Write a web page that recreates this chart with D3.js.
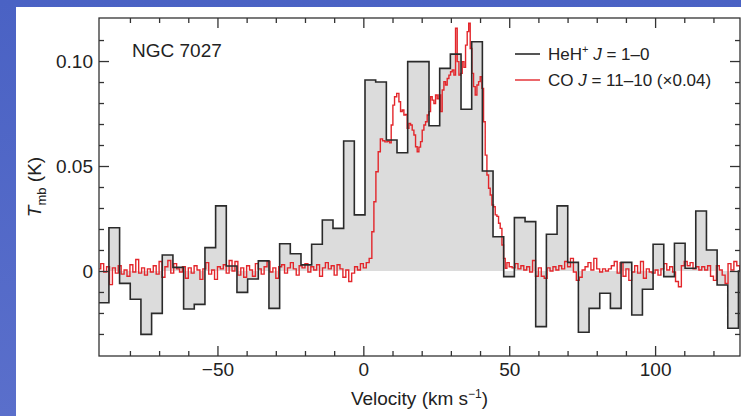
<!DOCTYPE html>
<html>
<head>
<meta charset="utf-8">
<script src="https://cdn.jsdelivr.net/npm/d3@7"></script>
<style>
  body { margin: 0; background: linear-gradient(180deg, #4a62c4, #5a6fcb); }
  svg { display: block; }
  text { font-family: "Liberation Sans", Arial, Helvetica, sans-serif; fill: #222; }
</style>
</head>
<body>
<script>
// HeH+ J=1-0 spectrum: channel centres (km/s) and Tmb (K)
var binWidth = 3.66;
var hehVel = [-89.03, -85.37, -81.72, -78.06, -74.40, -70.74, -67.09, -63.43, -59.77, -56.12,
  -52.46, -48.80, -45.14, -41.49, -37.83, -34.17, -30.52, -26.86, -23.20, -19.54,
  -15.89, -12.23, -8.57, -4.92, -1.26, 2.40, 6.06, 9.71, 13.37, 17.03,
  20.68, 24.34, 28.00, 31.66, 35.31, 38.97, 42.63, 46.28, 49.94, 53.60,
  57.26, 60.91, 64.57, 68.23, 71.88, 75.54, 79.20, 82.86, 86.51, 90.17,
  93.83, 97.48, 101.14, 104.80, 108.46, 112.11, 115.77, 119.43, 123.08, 126.74, 130.40];
var hehT = [-0.0151, 0.0206, -0.0059, -0.0135, -0.0302, -0.0202, 0.0076, 0.0017, -0.0181, -0.0159,
  0.0111, 0.0310, 0.0024, -0.0102, -0.0038, 0.0048, -0.0178, 0.0130, 0.0082, 0.0029,
  0.0127, 0.0243, 0.0203, 0.0619, 0.0267, 0.0910, 0.0900, 0.0624, 0.0563, 0.0997,
  0.0997, 0.0692, 0.0965, 0.1033, 0.0770, 0.1092, 0.0476, 0.0163, -0.0027, 0.0254,
  0.0235, -0.0265, 0.0175, 0.0310, 0.0041, -0.0292, -0.0178, -0.0106, -0.0178, 0.0041,
  -0.0210, -0.0087, 0.0127, -0.0027, 0.0132, 0.0013, 0.0286, 0.0100, -0.0067, -0.0273, 0.0000];

// CO J=11-10 (x0.04) spectrum: [velocity km/s, Tmb K]
var coPoints = [
  [-90.5, 0.0010], [-89.5, 0.0035], [-88.5, -0.0005], [-87.5, 0.0020], [-86.5, -0.0065],
  [-85.5, 0.0015], [-84.5, -0.0010], [-83.5, 0.0025], [-82.5, -0.0015], [-81.5, 0.0005],
  [-80.5, -0.0025], [-79.5, 0.0030], [-78.5, -0.0005], [-77.5, 0.0055], [-76.5, -0.0010],
  [-75.5, 0.0015], [-74.5, -0.0020], [-73.5, 0.0010], [-72.5, -0.0005], [-71.5, 0.0025],
  [-70.5, -0.0015], [-69.5, 0.0045], [-68.5, -0.0030], [-67.5, 0.0020], [-66.5, 0.0050],
  [-65.5, -0.0010], [-64.5, 0.0035], [-63.5, 0.0010], [-62.5, -0.0005], [-61.5, 0.0020],
  [-60.5, -0.0035], [-59.5, 0.0015], [-58.5, -0.0010], [-57.5, 0.0025], [-56.5, 0.0005],
  [-55.5, -0.0040], [-54.5, 0.0010], [-53.5, 0.0040], [-52.5, -0.0015], [-51.5, 0.0005],
  [-50.5, -0.0040], [-49.5, 0.0020], [-48.5, 0.0010], [-47.5, 0.0030], [-46.5, -0.0010],
  [-45.5, 0.0050], [-44.5, 0.0000], [-43.5, 0.0045], [-42.5, -0.0020], [-41.5, 0.0015],
  [-40.5, -0.0030], [-39.5, 0.0025], [-38.5, 0.0005], [-37.5, -0.0025], [-36.5, 0.0035],
  [-35.5, 0.0010], [-34.5, -0.0015], [-33.5, 0.0020], [-32.5, 0.0045], [-31.5, -0.0005],
  [-30.5, 0.0015], [-29.5, -0.0035], [-28.5, 0.0020], [-27.5, 0.0030], [-26.5, -0.0010],
  [-25.5, 0.0015], [-24.5, 0.0040], [-23.5, 0.0010], [-22.5, -0.0020], [-21.5, 0.0025],
  [-20.5, 0.0015], [-19.5, 0.0035], [-18.5, -0.0005], [-17.5, 0.0020], [-16.5, 0.0005],
  [-15.5, 0.0030], [-14.5, -0.0025], [-13.5, 0.0015], [-12.5, 0.0040], [-11.5, 0.0010],
  [-10.5, 0.0025], [-9.5, -0.0020], [-8.5, 0.0030], [-7.5, 0.0010], [-6.5, -0.0030],
  [-5.5, 0.0005], [-4.5, -0.0050], [-3.5, -0.0010], [-2.5, 0.0020], [-1.5, 0.0005],
  [-0.5, 0.0035], [0.5, 0.0015], [1.5, 0.0040], [2.5, 0.0060],
  [3.33, 0.0187], [3.91, 0.0330], [4.70, 0.0473], [5.49, 0.0568], [6.17, 0.0629],
  [6.99, 0.0620], [7.78, 0.0615], [8.71, 0.0618], [9.26, 0.0610], [9.84, 0.0695],
  [10.42, 0.0790], [10.97, 0.0830], [11.90, 0.0846], [12.48, 0.0806], [13.03, 0.0759],
  [13.61, 0.0767], [14.19, 0.0743], [14.74, 0.0745], [15.32, 0.0680], [15.91, 0.0703],
  [16.46, 0.0695], [17.04, 0.0671], [17.62, 0.0648], [18.17, 0.0592], [18.75, 0.0568],
  [19.34, 0.0590], [19.88, 0.0616], [20.47, 0.0671], [21.05, 0.0695], [21.60, 0.0711],
  [22.18, 0.0743], [22.76, 0.0759], [23.31, 0.0830], [23.90, 0.0814], [24.48, 0.0798],
  [25.03, 0.0838], [25.61, 0.0820], [26.19, 0.0838], [26.74, 0.0759], [27.32, 0.0862],
  [27.91, 0.0902], [28.45, 0.0886], [29.04, 0.0917], [29.62, 0.0933], [30.17, 0.0949],
  [30.75, 0.0957], [31.33, 0.0933], [31.88, 0.1156], [32.47, 0.0997], [33.05, 0.0933],
  [33.60, 0.0941], [34.18, 0.0997], [34.76, 0.0970], [35.31, 0.1076], [35.89, 0.1140],
  [36.34, 0.1180], [36.92, 0.1060], [37.51, 0.0941], [38.05, 0.0878], [38.64, 0.0838],
  [39.22, 0.0886], [39.77, 0.0902], [40.35, 0.0925], [40.93, 0.0870], [41.48, 0.0711],
  [42.06, 0.0552], [42.65, 0.0457], [43.19, 0.0394], [43.78, 0.0362], [44.36, 0.0314],
  [44.91, 0.0306], [45.49, 0.0267], [46.07, 0.0260], [46.62, 0.0227], [47.21, 0.0203],
  [47.79, 0.0124], [48.34, 0.0060], [48.92, 0.0013], [49.50, 0.0040],
  [50.5, 0.0020], [51.5, 0.0015], [52.5, 0.0035], [53.5, 0.0010], [54.5, 0.0025],
  [55.5, 0.0005], [56.5, 0.0020], [57.5, -0.0005], [58.5, 0.0050], [59.5, -0.0025],
  [60.5, 0.0015], [61.5, -0.0025], [62.5, -0.0035], [63.5, 0.0015], [64.5, 0.0000],
  [65.5, 0.0020], [66.5, 0.0005], [67.5, 0.0025], [68.5, 0.0010], [69.5, 0.0045],
  [70.5, 0.0020], [71.5, 0.0060], [72.5, -0.0005], [73.5, -0.0045], [74.5, -0.0030],
  [75.5, 0.0005], [76.5, 0.0020], [77.5, 0.0040], [78.5, 0.0005], [79.5, 0.0060],
  [80.5, 0.0010], [81.5, -0.0005], [82.5, 0.0010], [83.5, 0.0000], [84.5, 0.0010],
  [85.5, 0.0025], [86.5, 0.0045], [87.5, -0.0010], [88.5, 0.0040], [89.5, -0.0025],
  [90.5, 0.0010], [91.5, -0.0045], [92.5, -0.0005], [93.5, 0.0025], [94.5, -0.0010],
  [95.5, 0.0045], [96.5, -0.0035], [97.5, 0.0010], [98.5, -0.0005], [99.5, -0.0010],
  [100.5, 0.0005], [101.5, -0.0020], [102.5, 0.0010], [103.5, 0.0035], [104.5, 0.0005],
  [105.5, 0.0020], [106.5, -0.0005], [107.5, -0.0050], [108.5, -0.0075], [109.5, 0.0025],
  [110.5, 0.0045], [111.5, 0.0025], [112.5, 0.0040], [113.5, 0.0010], [114.5, 0.0020],
  [115.5, 0.0005], [116.5, 0.0020], [117.5, 0.0005], [118.5, 0.0025], [119.5, -0.0025],
  [120.5, -0.0045], [121.5, 0.0025], [122.5, 0.0005], [123.5, -0.0020], [124.5, -0.0060],
  [125.5, 0.0035], [126.5, 0.0005], [127.5, 0.0045], [128.5, 0.0025], [129.5, 0.0005]
];

// ticks
var xMajor = [-50, 0, 50, 100];
var xLabels = ["\u221250", "0", "50", "100"];
var xMinor = [-80, -70, -60, -40, -30, -20, -10, 10, 20, 30, 40, 60, 70, 80, 90, 110, 120];
var yMajor = [0, 0.05, 0.10];
var yLabels = ["0", "0.05", "0.10"];
var yMinor = [-0.03, -0.02, -0.01, 0.01, 0.02, 0.03, 0.04, 0.06, 0.07, 0.08, 0.09, 0.11];

var width = 741;
var height = 416;
var svg = d3.select("body")
  .append("svg")
  .attr("width", width)
  .attr("height", height);

// white panel over the blue background
svg.append("rect")
  .attr("x", 16).attr("y", 7)
  .attr("width", width - 16).attr("height", height - 7)
  .attr("fill", "#fff");

var plotLeft = 99, plotRight = 740, plotTop = 18, plotBottom = 356;

var xScale = d3.scaleLinear().domain([-90.6, 129.1]).range([plotLeft, plotRight]);
var yScale = d3.scaleLinear().domain([-0.0405, 0.1205]).range([plotBottom, plotTop]);

svg.append("clipPath").attr("id", "plotclip")
  .append("rect")
  .attr("x", plotLeft).attr("y", plotTop)
  .attr("width", plotRight - plotLeft).attr("height", plotBottom - plotTop);

var plot = svg.append("g").attr("clip-path", "url(#plotclip)");

// histogram steps
var hehSteps = [];
hehVel.forEach(function(v, i) {
  hehSteps.push([v - binWidth / 2, hehT[i]]);
  hehSteps.push([v + binWidth / 2, hehT[i]]);
});

var area = d3.area()
  .x(function(d) { return xScale(d[0]); })
  .y0(yScale(0))
  .y1(function(d) { return yScale(d[1]); });

var line = d3.line()
  .x(function(d) { return xScale(d[0]); })
  .y(function(d) { return yScale(d[1]); });

plot.append("path")
  .datum(hehSteps)
  .attr("d", area)
  .attr("fill", "#dcdcdc");

plot.append("path")
  .datum(coPoints)
  .attr("d", line.curve(d3.curveStep))
  .attr("fill", "none")
  .attr("stroke", "#e3262b")
  .attr("stroke-width", 1.4);

plot.append("path")
  .datum(hehSteps)
  .attr("d", d3.line()
    .x(function(d) { return xScale(d[0]); })
    .y(function(d) { return yScale(d[1]); }))
  .attr("fill", "none")
  .attr("stroke", "#2a2a2a")
  .attr("stroke-width", 1.6);

// axes
function styleAxis(g) {
  g.select(".domain").remove();
  g.selectAll(".tick line").attr("stroke", "#333").attr("stroke-width", 1.3);
  g.selectAll(".tick text")
    .attr("fill", "#222")
    .style("font-family", "'Liberation Sans', Arial, Helvetica, sans-serif")
    .style("font-size", "19px");
}

svg.append("g")
  .attr("transform", "translate(0," + plotBottom + ")")
  .call(d3.axisBottom(xScale).tickValues(xMajor).tickSize(-10).tickPadding(6.5)
    .tickFormat(function(d, i) { return xLabels[i]; }))
  .call(styleAxis);
svg.append("g")
  .attr("transform", "translate(0," + plotBottom + ")")
  .call(d3.axisBottom(xScale).tickValues(xMinor).tickSize(-5).tickFormat(""))
  .call(styleAxis);
svg.append("g")
  .attr("transform", "translate(0," + plotTop + ")")
  .call(d3.axisTop(xScale).tickValues(xMajor).tickSize(-10).tickFormat(""))
  .call(styleAxis);
svg.append("g")
  .attr("transform", "translate(0," + plotTop + ")")
  .call(d3.axisTop(xScale).tickValues(xMinor).tickSize(-5).tickFormat(""))
  .call(styleAxis);

svg.append("g")
  .attr("transform", "translate(" + plotLeft + ",0)")
  .call(d3.axisLeft(yScale).tickValues(yMajor).tickSize(-10).tickPadding(6)
    .tickFormat(function(d, i) { return yLabels[i]; }))
  .call(styleAxis);
svg.append("g")
  .attr("transform", "translate(" + plotLeft + ",0)")
  .call(d3.axisLeft(yScale).tickValues(yMinor).tickSize(-5).tickFormat(""))
  .call(styleAxis);
svg.append("g")
  .attr("transform", "translate(" + plotRight + ",0)")
  .call(d3.axisRight(yScale).tickValues(yMajor).tickSize(-10).tickFormat(""))
  .call(styleAxis);
svg.append("g")
  .attr("transform", "translate(" + plotRight + ",0)")
  .call(d3.axisRight(yScale).tickValues(yMinor).tickSize(-5).tickFormat(""))
  .call(styleAxis);

// frame
svg.append("rect")
  .attr("x", plotLeft).attr("y", plotTop)
  .attr("width", plotRight - plotLeft).attr("height", plotBottom - plotTop)
  .attr("fill", "none")
  .attr("stroke", "#333")
  .attr("stroke-width", 1.3);

// axis labels
var xLab = svg.append("text")
  .attr("x", (plotLeft + plotRight) / 2)
  .attr("y", 405)
  .attr("text-anchor", "middle")
  .style("font-size", "19px");
xLab.append("tspan").text("Velocity (km s");
xLab.append("tspan").attr("dy", -7).style("font-size", "12px").text("\u22121");
xLab.append("tspan").attr("dy", 7).text(")");

var yLab = svg.append("text")
  .attr("transform", "translate(41," + (plotTop + plotBottom) / 2 + ") rotate(-90)")
  .attr("text-anchor", "middle")
  .style("font-size", "19px");
yLab.append("tspan").style("font-style", "italic").text("T");
yLab.append("tspan").attr("dy", 5).style("font-size", "13px").text("mb");
yLab.append("tspan").attr("dy", -5).text(" (K)");

// object name
svg.append("text")
  .attr("x", 132).attr("y", 57)
  .style("font-size", "19px")
  .text("NGC 7027");

// legend
var legend = svg.append("g");
legend.append("line")
  .attr("x1", 515).attr("x2", 540).attr("y1", 54).attr("y2", 54)
  .attr("stroke", "#2a2a2a").attr("stroke-width", 1.6);
legend.append("line")
  .attr("x1", 515).attr("x2", 540).attr("y1", 80).attr("y2", 80)
  .attr("stroke", "#e3262b").attr("stroke-width", 1.4);

var l1 = legend.append("text").attr("x", 548).attr("y", 59.5).style("font-size", "17px");
l1.append("tspan").text("HeH");
l1.append("tspan").attr("dy", -7).style("font-size", "11px").text("+");
l1.append("tspan").attr("dy", 7).text(" ");
l1.append("tspan").style("font-style", "italic").text("J");
l1.append("tspan").text(" = 1\u20130");

var l2 = legend.append("text").attr("x", 548).attr("y", 86).style("font-size", "17px");
l2.append("tspan").text("CO ");
l2.append("tspan").style("font-style", "italic").text("J");
l2.append("tspan").text(" = 11\u201310 (\u00d70.04)");
</script>
</body>
</html>
